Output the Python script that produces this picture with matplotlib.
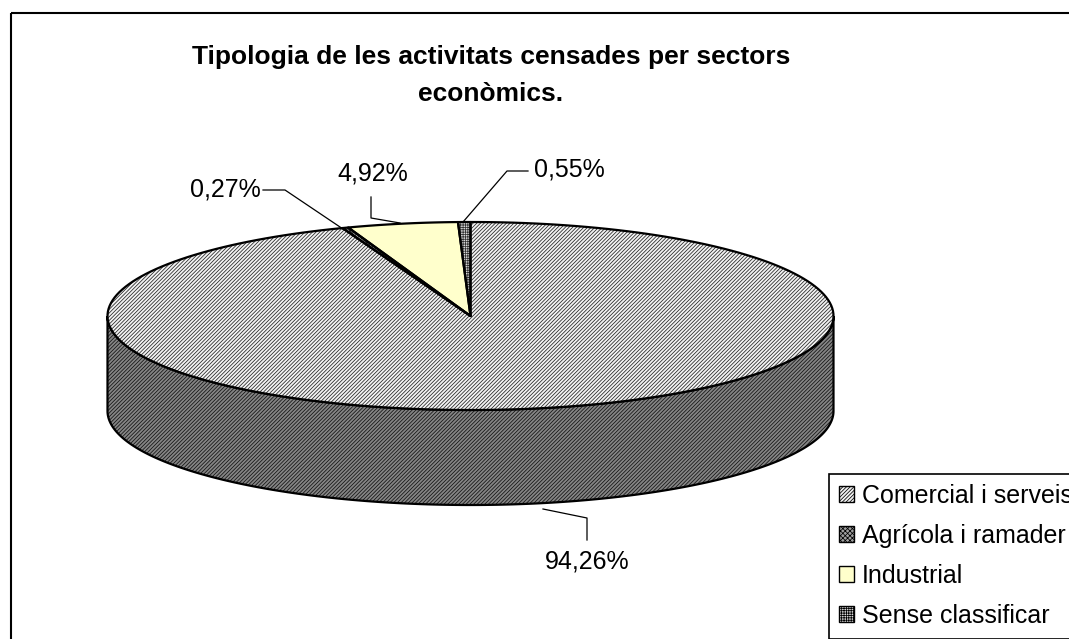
import numpy as np
import matplotlib
matplotlib.use("Agg")
import matplotlib.pyplot as plt
from matplotlib.patches import Polygon, Patch, Rectangle

categories = ["Comercial i serveis", "Agrícola i ramader", "Industrial", "Sense classificar"]
shares = [94.26, 0.27, 4.92, 0.55]
title = "Tipologia de les activitats censades per sectors\neconòmics."

plt.rcParams["font.family"] = ["Liberation Sans", "DejaVu Sans"]
plt.rcParams["hatch.linewidth"] = 0.55

styles = [
    dict(facecolor="#f2f2f2", hatch="/" * 9, edgecolor="#222222"),
    dict(facecolor="#a0a0a0", hatch="x" * 7, edgecolor="#1a1a1a"),
    dict(facecolor="#ffffcc", hatch=None, edgecolor="black"),
    dict(facecolor="#d8d8d8", hatch="+" * 7, edgecolor="#333333"),
]
side_style = dict(facecolor="#858585", hatch="/" * 9, edgecolor="#111111")

fig = plt.figure(figsize=(10.69, 6.39), dpi=100, facecolor="white")
ax = fig.add_axes([0, 0, 1, 1])
ax.set_xlim(0, 1069)
ax.set_ylim(639, 0)
ax.axis("off")

ax.add_patch(Rectangle((10.5, 12.5), 1100, 640, fill=False, edgecolor="black", lw=1.5, zorder=1))

cx, cy, rx, ry, depth = 470.5, 316.0, 363.0, 94.0, 95.0

def rim(f0, f1, n=200):
    t = 2 * np.pi * np.linspace(f0, f1, n) / 100.0
    return cx + rx * np.sin(t), cy - ry * np.cos(t)

# side wall (visible lower half of the Comercial slice)
x, y = rim(25, 75)
wall = np.r_[np.c_[x, y], np.c_[x[::-1], y[::-1] + depth]]
ax.add_patch(Polygon(wall, closed=True, lw=0, zorder=2, **side_style))
ax.add_patch(Polygon(wall, closed=True, fill=False, edgecolor="black", lw=1.6, zorder=3))

# top face slices
edges = np.r_[0, np.cumsum(shares)]
for i, st in enumerate(styles):
    x, y = rim(edges[i], edges[i + 1])
    pts = np.r_[[[cx, cy]], np.c_[x, y]]
    ax.add_patch(Polygon(pts, closed=True, lw=0, zorder=4, **st))
    ax.add_patch(Polygon(pts, closed=True, fill=False, edgecolor="black", lw=1.6, zorder=5, joinstyle="round"))

ax.text(491, 75.5, title, ha="center", va="center", fontsize=19, fontweight="bold",
        linespacing=1.68, color="black", zorder=6)

# data labels and leader lines
fmt = [f"{v:.2f}".replace(".", ",") + "%" for v in shares]
ax.text(587.5, 561, fmt[0], ha="center", va="center", fontsize=18, zorder=6)
ax.text(225.5, 190, fmt[1], ha="center", va="center", fontsize=18, zorder=6)
ax.text(372.5, 174, fmt[2], ha="center", va="center", fontsize=18, zorder=6)
ax.text(569, 170, fmt[3], ha="center", va="center", fontsize=18, zorder=6)
lk = dict(color="black", lw=0.9, zorder=6)
ax.plot([587, 587, 543], [540, 518, 509], **lk)
ax.plot([263, 285, 343], [190, 190, 229], **lk)
ax.plot([371, 371, 400], [197, 218, 223], **lk)
ax.plot([528, 507, 463], [171, 171, 222], **lk)

handles = [Patch(linewidth=1.0, **{**st, "edgecolor": "black"}) for st in styles]
leg = ax.legend(handles, categories, loc="upper left", bbox_to_anchor=(828.5, 473.5),
                bbox_transform=ax.transData, fontsize=18, frameon=True, fancybox=False,
                edgecolor="black", framealpha=1, borderpad=0.42, labelspacing=0.64,
                handlelength=0.6, handleheight=0.6, handletextpad=0.32, borderaxespad=0)
leg.set_zorder(7)
leg.get_frame().set_linewidth(1.2)

fig.savefig("out.png", dpi=100, facecolor="white")
